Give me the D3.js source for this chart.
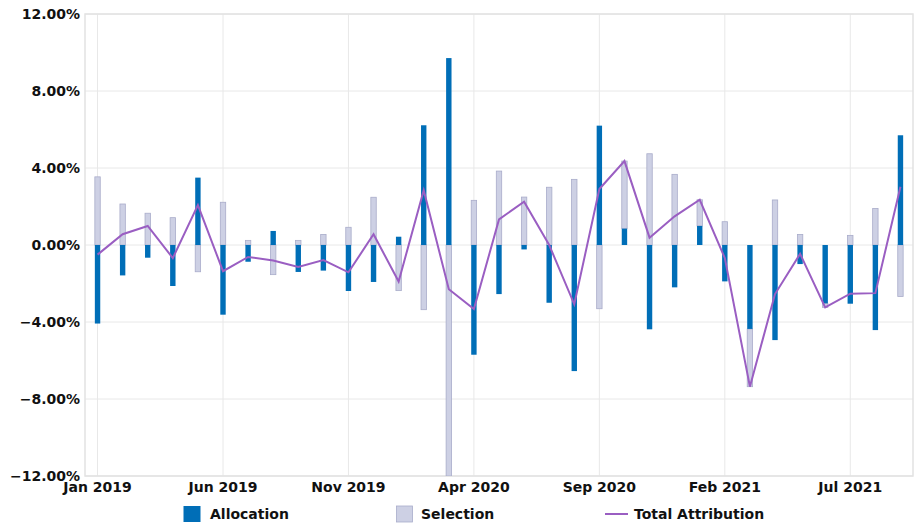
<!DOCTYPE html>
<html>
<head>
<meta charset="utf-8">
<script src="https://cdn.jsdelivr.net/npm/d3@7"></script>
<style>
  html, body { margin: 0; padding: 0; background: #fff; }
  svg { display: block; }
  text { font-family: "DejaVu Sans", sans-serif; font-weight: bold; fill: #111; }
</style>
</head>
<body>
<svg id="chart" width="920" height="524"></svg>
<script>
const months = ["Jan 2019","Feb 2019","Mar 2019","Apr 2019","May 2019","Jun 2019","Jul 2019","Aug 2019","Sep 2019","Oct 2019","Nov 2019","Dec 2019",
  "Jan 2020","Feb 2020","Mar 2020","Apr 2020","May 2020","Jun 2020","Jul 2020","Aug 2020","Sep 2020","Oct 2020","Nov 2020","Dec 2020",
  "Jan 2021","Feb 2021","Mar 2021","Apr 2021","May 2021","Jun 2021","Jul 2021","Aug 2021","Sep 2021"];
const allocation = [-4.08, -1.58, -0.66, -2.13, 3.50, -3.62, -0.87, 0.73, -1.40, -1.33, -2.39, -1.92,
  0.43, 6.22, 9.71, -5.70, -2.55, -0.23, -3.00, -6.55, 6.20, 0.85, -4.38, -2.20,
  0.99, -1.89, -4.36, -4.94, -0.99, -3.03, -3.05, -4.42, 5.70];
const selection = [3.54, 2.13, 1.65, 1.42, -1.39, 2.22, 0.24, -1.54, 0.24, 0.55, 0.92, 2.48,
  -2.37, -3.36, -12.0, 2.32, 3.84, 2.49, 3.00, 3.41, -3.31, 3.51, 4.74, 3.67,
  1.36, 1.21, -3.00, 2.34, 0.55, -0.21, 0.50, 1.90, -2.67];
const totalAttribution = [-0.50, 0.56, 0.99, -0.68, 2.07, -1.36, -0.62, -0.81, -1.14, -0.78, -1.42, 0.56,
  -1.90, 2.85, -2.30, -3.33, 1.33, 2.25, 0.00, -3.08, 2.91, 4.36, 0.38, 1.49,
  2.35, -0.68, -7.36, -2.55, -0.46, -3.24, -2.53, -2.50, 3.03];
const xTickLabels = ["Jan 2019","Jun 2019","Nov 2019","Apr 2020","Sep 2020","Feb 2021","Jul 2021"];
const yTicks = [-12, -8, -4, 0, 4, 8, 12];
const seriesNames = ["Allocation", "Selection", "Total Attribution"];

const colors = { alloc: "#006eb7", sel: "#cdd0e4", selStroke: "#a9acca", line: "#9a5ec2", grid: "#e8e8e8" };
const plot = { left: 85, right: 913, top: 14, bottom: 476 };

const svg = d3.select("#chart");
const x = d3.scaleBand().domain(months).range([plot.left, plot.right]).padding(0);
const cx = m => x(m) + x.bandwidth() / 2;
const y = d3.scaleLinear().domain([-12, 12]).range([plot.bottom, plot.top]);

// grid
const g = svg.append("g");
g.selectAll("line.hg").data(yTicks).join("line")
  .attr("x1", plot.left).attr("x2", plot.right)
  .attr("y1", d => y(d)).attr("y2", d => y(d))
  .attr("stroke", colors.grid).attr("stroke-width", 1);
g.selectAll("line.vg").data(xTickLabels).join("line")
  .attr("x1", d => cx(d)).attr("x2", d => cx(d))
  .attr("y1", plot.top).attr("y2", plot.bottom)
  .attr("stroke", colors.grid).attr("stroke-width", 1);
g.append("rect").attr("x", plot.left).attr("y", plot.top)
  .attr("width", plot.right - plot.left).attr("height", plot.bottom - plot.top)
  .attr("fill", "none").attr("stroke", "#e2e2e2").attr("stroke-width", 1.5);

// axes
const yAxis = d3.axisLeft(y).tickValues(yTicks).tickSize(0).tickPadding(5)
  .tickFormat(d => d3.format(".2f")(d) + "%");
const ya = svg.append("g").attr("transform", `translate(${plot.left},0)`).call(yAxis);
ya.select(".domain").remove();
ya.selectAll("text").style("font-size", "14px").style("font-family", "DejaVu Sans").style("font-weight", "bold").attr("fill", "#111");

const xAxis = d3.axisBottom(x).tickValues(xTickLabels).tickSize(0).tickPadding(6);
const xa = svg.append("g").attr("transform", `translate(0,${plot.bottom})`).call(xAxis);
xa.select(".domain").remove();
xa.selectAll("text").style("font-size", "14px").style("font-family", "DejaVu Sans").style("font-weight", "bold").attr("fill", "#111");

// bars
const data = months.map((m, i) => ({ m, a: allocation[i], s: selection[i], t: totalAttribution[i] }));
const bw = 5.4;
clipId = "plotclip";
svg.append("clipPath").attr("id", clipId).append("rect")
  .attr("x", plot.left).attr("y", plot.top).attr("width", plot.right - plot.left).attr("height", plot.bottom - plot.top);
const bars = svg.append("g").attr("clip-path", `url(#${clipId})`);

bars.selectAll("rect.sel").data(data).join("rect")
  .attr("x", d => cx(d.m) - bw / 2)
  .attr("y", d => {
    const base = (Math.sign(d.s) === Math.sign(d.a)) ? d.a : 0;
    return y(Math.max(base, base + d.s));
  })
  .attr("width", bw)
  .attr("height", d => Math.abs(y(0) - y(Math.abs(d.s))))
  .attr("fill", colors.sel).attr("stroke", colors.selStroke).attr("stroke-width", 0.8);

bars.selectAll("rect.alloc").data(data).join("rect")
  .attr("x", d => cx(d.m) - bw / 2)
  .attr("y", d => y(Math.max(0, d.a)))
  .attr("width", bw)
  .attr("height", d => Math.abs(y(0) - y(d.a)))
  .attr("fill", colors.alloc);

// line
const line = d3.line().x(d => cx(d.m)).y(d => y(d.t));
bars.append("path").datum(data).attr("d", line)
  .attr("fill", "none").attr("stroke", colors.line).attr("stroke-width", 2).attr("stroke-linejoin", "miter");

// legend
const lg = svg.append("g");
lg.append("rect").attr("x", 183.5).attr("y", 506).attr("width", 17).attr("height", 16).attr("fill", colors.alloc);
lg.append("text").attr("x", 210).attr("y", 518.5).style("font-size", "14px").text(seriesNames[0]);
lg.append("rect").attr("x", 396.5).attr("y", 506).attr("width", 16).attr("height", 16)
  .attr("fill", colors.sel).attr("stroke", colors.selStroke).attr("stroke-width", 0.8);
lg.append("text").attr("x", 421).attr("y", 518.5).style("font-size", "14px").text(seriesNames[1]);
lg.append("line").attr("x1", 605).attr("x2", 628).attr("y1", 514).attr("y2", 514)
  .attr("stroke", colors.line).attr("stroke-width", 2);
lg.append("text").attr("x", 634).attr("y", 518.5).style("font-size", "14px").text(seriesNames[2]);
</script>
</body>
</html>
